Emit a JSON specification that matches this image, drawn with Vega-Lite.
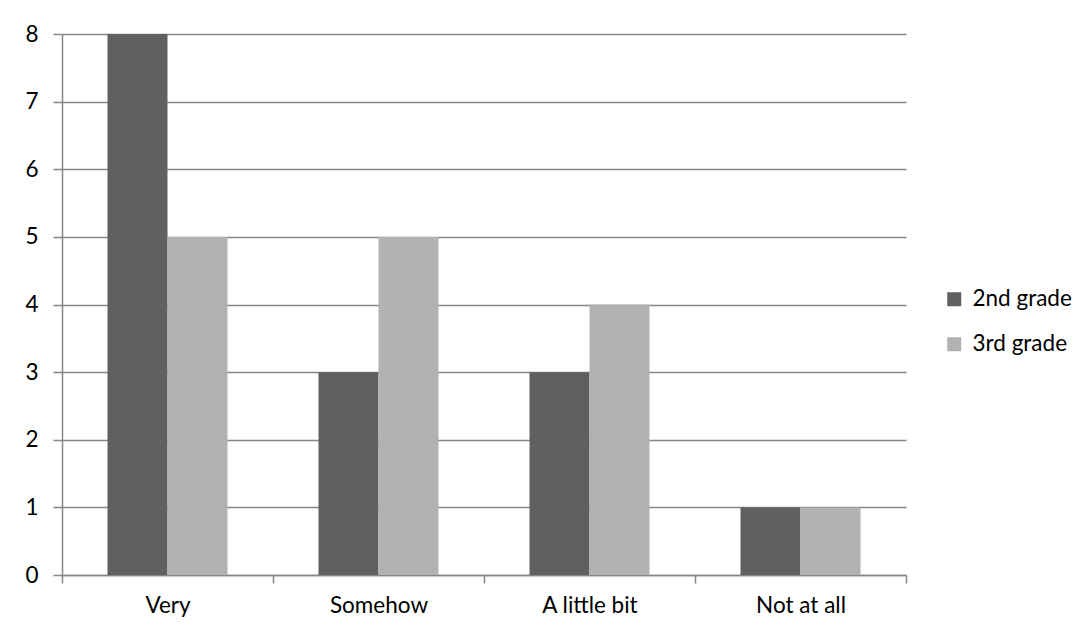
{
  "$schema": "https://vega.github.io/schema/vega-lite/v6.json",
  "autosize": "none",
  "width": 844,
  "height": 541,
  "padding": {"left": 62, "top": 34, "right": 184, "bottom": 60},
  "background": "white",
  "data": {"values": [
    {"category": "Very", "grade": "2nd grade", "value": 8},
    {"category": "Very", "grade": "3rd grade", "value": 5},
    {"category": "Somehow", "grade": "2nd grade", "value": 3},
    {"category": "Somehow", "grade": "3rd grade", "value": 5},
    {"category": "A little bit", "grade": "2nd grade", "value": 3},
    {"category": "A little bit", "grade": "3rd grade", "value": 4},
    {"category": "Not at all", "grade": "2nd grade", "value": 1},
    {"category": "Not at all", "grade": "3rd grade", "value": 1}
  ]},
  "mark": {"type": "bar"},
  "encoding": {
    "x": {
      "field": "category", "type": "nominal", "sort": null,
      "scale": {"paddingInner": 0, "paddingOuter": 0},
      "axis": {"title": null, "labelAngle": 0, "tickBand": "extent", "domainColor": "#868686", "domainWidth": 1.5, "tickColor": "#868686", "tickWidth": 1.5, "tickSize": 8, "labelPadding": 11, "labelFont": "Lato", "labelFontSize": 22.5, "labelColor": "#000000", "grid": false}
    },
    "xOffset": {"field": "grade", "type": "nominal", "scale": {"paddingInner": 0, "paddingOuter": 0.758}},
    "y": {
      "field": "value", "type": "quantitative",
      "scale": {"domain": [0, 8], "nice": false},
      "axis": {"title": null, "values": [0,1,2,3,4,5,6,7,8], "labelOverlap": false, "format": "d", "domainColor": "#868686", "domainWidth": 1.5, "tickColor": "#868686", "tickWidth": 1.5, "tickSize": 9, "labelPadding": 15, "labelFont": "Lato", "labelFontSize": 22.5, "labelColor": "#000000", "grid": true, "gridColor": "#868686", "gridWidth": 1.5, "gridOpacity": 1}
    },
    "color": {
      "field": "grade", "type": "nominal",
      "scale": {"range": ["#606060", "#b2b2b2"]},
      "legend": {"title": null, "orient": "none", "legendX": 881, "legendY": 254, "symbolType": "square", "symbolSize": 196, "symbolStrokeWidth": 0, "labelFont": "Lato", "labelFontSize": 22.5, "labelColor": "#000000", "rowPadding": 22, "labelOffset": 7}
    }
  },
  "config": {"view": {"stroke": null}}
}
